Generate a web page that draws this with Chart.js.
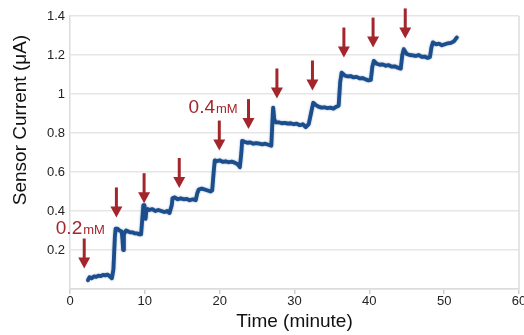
<!DOCTYPE html>
<html><head><meta charset="utf-8">
<script src="https://cdn.jsdelivr.net/npm/chart.js@4"></script>
<style>html,body{margin:0;padding:0;background:#fff}canvas{display:block}</style>
</head><body>
<canvas id="c" width="524" height="335"></canvas>
<script>
// ---- data ----
const times = [2.4,2.6,2.9,3.2,3.5,3.8,4.1,4.4,4.7,5.0,5.3,5.6,
  5.8,6.0,6.1,6.3,6.6,6.9,7.0,7.1,7.2,7.5,7.8,8.1,8.4,8.7,9.0,9.3,9.5,
  9.7,9.8,9.95,10.1,10.2,10.4,10.6,11.0,11.4,11.8,12.2,12.6,13.0,13.3,
  13.6,13.7,14.0,14.4,14.8,15.2,15.6,16.0,16.4,16.8,
  17.0,17.2,17.6,18.0,18.4,18.8,19.0,
  19.2,19.35,19.6,20.0,20.4,20.8,21.2,21.6,22.0,22.4,22.7,
  22.9,23.0,23.3,23.7,24.1,24.5,24.9,25.3,25.7,26.1,26.5,26.9,
  27.1,27.15,27.3,27.5,27.9,28.3,28.7,29.1,29.5,29.9,30.3,30.7,31.1,31.5,31.9,
  32.2,32.5,32.8,33.2,33.6,34.0,34.4,34.8,35.2,35.6,35.9,
  36.1,36.3,36.7,37.1,37.5,37.9,38.3,38.7,39.1,39.5,39.9,40.2,
  40.4,40.6,41.0,41.4,41.8,42.2,42.6,43.0,43.4,43.8,44.2,
  44.4,44.6,45.0,45.4,45.8,46.2,46.6,47.0,47.4,47.8,48.1,
  48.3,48.5,48.9,49.3,49.7,50.1,50.5,50.9,51.3,51.7];
const currents = [0.045,0.06,0.055,0.065,0.062,0.068,0.066,0.072,0.07,0.074,0.065,0.055,
  0.10,0.27,0.31,0.31,0.30,0.295,0.26,0.20,0.28,0.30,0.295,0.29,0.29,0.285,0.285,0.28,0.28,
  0.38,0.43,0.43,0.36,0.40,0.41,0.405,0.41,0.40,0.405,0.40,0.395,0.40,0.39,
  0.43,0.465,0.47,0.46,0.465,0.46,0.462,0.455,0.46,0.455,
  0.49,0.51,0.515,0.51,0.505,0.50,0.505,
  0.60,0.66,0.655,0.66,0.652,0.655,0.65,0.653,0.648,0.64,0.625,
  0.70,0.76,0.755,0.75,0.752,0.745,0.748,0.745,0.742,0.745,0.74,0.735,
  0.90,0.93,0.87,0.855,0.855,0.85,0.852,0.848,0.85,0.845,0.848,0.84,0.845,0.83,0.845,
  0.90,0.955,0.945,0.935,0.93,0.932,0.928,0.93,0.925,0.935,0.94,
  1.06,1.11,1.095,1.09,1.092,1.085,1.088,1.08,1.082,1.075,1.07,1.072,
  1.14,1.17,1.155,1.15,1.152,1.145,1.148,1.14,1.142,1.135,1.13,
  1.20,1.23,1.205,1.2,1.198,1.195,1.2,1.19,1.192,1.185,1.19,
  1.24,1.265,1.255,1.258,1.25,1.255,1.26,1.262,1.27,1.29];
const xTickValues = [0,10,20,30,40,50,60];
const yTickValues = [0,0.2,0.4,0.6,0.8,1,1.2,1.4];
const arrowTimes = [1.9,6.2,9.9,14.6,19.95,23.85,27.65,32.4,36.6,40.5,44.8];
const arrowTips  = [0.105,0.367,0.44,0.518,0.71,0.82,0.977,1.018,1.187,1.238,1.285];
const noteTexts  = ['0.2','0.4'];
const noteUnits  = ['mM','mM'];
const noteTimes  = [-1.9,15.85];
const noteValues = [0.32,0.936];
const xTitle = 'Time (minute)';
const yTitle = 'Sensor Current (μA)';

const RED = '#a3262c';
const FONT = '"Liberation Sans", Arial, sans-serif';
const points = times.map((t,i)=>({x:t,y:currents[i]}));

const lineGlow = {
  id:'lineGlow',
  beforeDatasetsDraw(chart){ const c=chart.ctx; c.save(); c.shadowColor='rgba(28,77,140,0.55)'; c.shadowBlur=2; },
  afterDatasetsDraw(chart){ chart.ctx.restore(); }
};

const extras = {
  id:'extras',
  afterDraw(chart){
    const {ctx, chartArea:a, scales:{x,y}} = chart;
    ctx.save();
    ctx.strokeStyle='#dcdcdc'; ctx.lineWidth=1.5;
    ctx.beginPath(); ctx.moveTo(a.right,a.top); ctx.lineTo(a.right,a.bottom); ctx.stroke();
    ctx.strokeStyle=RED; ctx.fillStyle=RED; ctx.lineWidth=3;
    arrowTimes.forEach((t,i)=>{
      const px=x.getPixelForValue(t), py=y.getPixelForValue(arrowTips[i]);
      ctx.beginPath(); ctx.moveTo(px,py-30); ctx.lineTo(px,py-8); ctx.stroke();
      ctx.beginPath(); ctx.moveTo(px-6,py-11); ctx.lineTo(px+6,py-11); ctx.lineTo(px,py); ctx.closePath(); ctx.fill();
    });
    ctx.textBaseline='alphabetic'; ctx.textAlign='left';
    noteTexts.forEach((s,i)=>{
      const px=x.getPixelForValue(noteTimes[i]), py=y.getPixelForValue(noteValues[i])+7;
      ctx.font='19px '+FONT;
      ctx.fillText(s,px,py);
      const w=ctx.measureText(s).width;
      ctx.font='13px '+FONT;
      ctx.fillText(noteUnits[i],px+w+1,py);
    });
    ctx.fillStyle='#111';
    ctx.font='19px '+FONT;
    ctx.translate(21,120); ctx.rotate(-Math.PI/2);
    ctx.textAlign='center'; ctx.textBaseline='middle';
    ctx.fillText(yTitle,0,0);
    ctx.restore();
  }
};

new Chart(document.getElementById('c'),{
  type:'line',
  data:{datasets:[{data:points,borderColor:'#1c4d8c',borderWidth:3.8,pointRadius:0,tension:0,borderJoinStyle:'round',borderCapStyle:'round'}]},
  options:{
    responsive:false,animation:false,
    layout:{padding:{top:16,right:0,left:0,bottom:0}},
    plugins:{legend:{display:false},tooltip:{enabled:false}},
    scales:{
      x:{type:'linear',min:0,max:60,
        afterBuildTicks(s){s.ticks=xTickValues.map(v=>({value:v}));},
        afterFit(s){s.height=46; s.paddingRight=5; s.paddingLeft=0;},
        ticks:{color:'#222',padding:0,maxRotation:0,font:{size:13,family:FONT}},
        grid:{drawOnChartArea:false,drawTicks:true,tickLength:5,color:'#cfcfcf',lineWidth:1.5},
        border:{color:'#dcdcdc',width:1.5},
        title:{display:true,text:xTitle,color:'#111',padding:{top:0,bottom:2},font:{size:19,family:FONT}}
      },
      y:{type:'linear',min:0,max:1.4,
        afterBuildTicks(s){s.ticks=yTickValues.map(v=>({value:v}));},
        afterFit(s){s.width=70;},
        ticks:{color:'#222',padding:5,font:{size:13,family:FONT},
          callback:v=>v===0?'':String(+v.toFixed(1))},
        grid:{drawTicks:false,color:'#e6e6e6',lineWidth:1.5},
        border:{color:'#dcdcdc',width:1.5}
      }
    }
  },
  plugins:[lineGlow,extras]
});
</script>
</body></html>
